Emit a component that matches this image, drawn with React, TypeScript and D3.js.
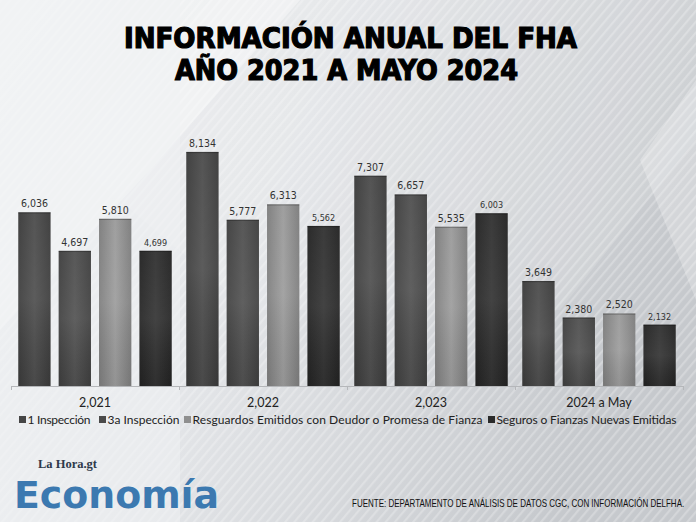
import React from "react";
import * as d3 from "d3";

const categories = ["2,021", "2,022", "2,023", "2024 a May"];
const seriesNames = [
  "1 Inspección",
  "3a Inspección",
  "Resguardos Emitidos con Deudor o Promesa de Fianza",
  "Seguros o Fianzas Nuevas Emitidas",
];
const inspeccion1 = [6036, 8134, 7307, 3649];
const inspeccion3a = [4697, 5777, 6657, 2380];
const resguardos = [5810, 6313, 5535, 2520];
const seguros = [4699, 5562, 6003, 2132];
const seriesValues = [inspeccion1, inspeccion3a, resguardos, seguros];

const W = 696;
const H = 522;
const baseY = 386;

const barColors = [
  ["#3a3a3a", "#4e4e4e", "#3a3a3a"],
  ["#3e3e3e", "#525252", "#3e3e3e"],
  ["#7c7c7c", "#9c9c9c", "#7c7c7c"],
  ["#222222", "#333333", "#222222"],
];
const legendColors = ["#454545", "#4a4a4a", "#8f8f8f", "#2a2a2a"];
const labelSizes = [10.5, 10.5, 10.5, 9];

// legend layout (square x, text width)
const legendSquareX = [19, 99, 184, 488];
const legendTextW = [63, 72, 290, 180];

export default function App() {
  const x0 = d3.scaleBand<string>().domain(categories).range([11, 683]).paddingInner(0).paddingOuter(0);
  const x1 = d3
    .scaleBand<number>()
    .domain(d3.range(seriesNames.length))
    .range([0, x0.bandwidth()])
    .paddingInner(0.2)
    .paddingOuter(0.18);
  const y = d3.scaleLinear().domain([0, 9000]).range([baseY, 127]);
  const fmt = d3.format(",");

  return (
    <div style={{ position: "fixed", left: 0, top: 0 }}>
      <svg width={W} height={H} xmlns="http://www.w3.org/2000/svg" style={{ display: "block" }}>
        <defs>
          <linearGradient id="bg" x1="0" y1="0" x2="1" y2="0.3">
            <stop offset="0" stopColor="#eef0f2" />
            <stop offset="0.45" stopColor="#e3e5e8" />
            <stop offset="1" stopColor="#c6c9cd" />
          </linearGradient>
          <pattern id="stripes" width="7" height="7" patternUnits="userSpaceOnUse" patternTransform="rotate(40)">
            <rect x="0" y="0" width="2.2" height="7" fill="#ffffff" opacity="0.45" />
          </pattern>
          {barColors.map((c, i) => (
            <linearGradient key={i} id={`bar${i}`} x1="0" y1="0" x2="1" y2="0">
              <stop offset="0" stopColor={c[0]} />
              <stop offset="0.5" stopColor={c[1]} />
              <stop offset="1" stopColor={c[2]} />
            </linearGradient>
          ))}
          <linearGradient id="barShade" x1="0" y1="0" x2="0" y2="1">
            <stop offset="0" stopColor="#ffffff" stopOpacity="0.04" />
            <stop offset="0.5" stopColor="#ffffff" stopOpacity="0.08" />
            <stop offset="1" stopColor="#000000" stopOpacity="0.05" />
          </linearGradient>
        </defs>

        {/* background */}
        <rect x={0} y={0} width={W} height={H} fill="url(#bg)" />
        <polygon points="0,0 300,0 150,170 0,330" fill="#f6f7f8" opacity="0.55" />
        <polygon points="60,150 210,0 696,0 696,140 560,310 250,310" fill="#ffffff" opacity="0.12" />
        <polygon points="640,160 696,80 696,300" fill="#ffffff" opacity="0.25" />
        <rect x={0} y={0} width={W} height={H} fill="url(#stripes)" opacity="0.55" />
        <rect x={0} y={0} width={180} height={H} fill="#f0f1f3" opacity="0.5" />

        {/* title */}
        <g fontFamily="'DejaVu Sans Condensed', 'DejaVu Sans', sans-serif" fontWeight={700} fill="#000" stroke="#000" strokeWidth={1.2} textAnchor="start">
          <text x={124} y={48} fontSize={29} textLength={453} lengthAdjust="spacingAndGlyphs">
            INFORMACIÓN ANUAL DEL FHA
          </text>
          <text x={175} y={80} fontSize={29} textLength={343} lengthAdjust="spacingAndGlyphs">
            AÑO 2021 A MAYO 2024
          </text>
        </g>

        {/* bars */}
        {categories.map((cat, ci) => (
          <g key={cat} transform={`translate(${x0(cat)},0)`}>
            {seriesValues.map((vals, si) => {
              const v = vals[ci];
              const bx = x1(si) as number;
              const bw = x1.bandwidth();
              return (
                <g key={si}>
                  <rect x={bx} y={y(v)} width={bw} height={baseY - y(v)} fill={`url(#bar${si})`} />
                  <rect x={bx} y={y(v)} width={bw} height={baseY - y(v)} fill="url(#barShade)" />
                  <rect x={bx} y={y(v)} width={bw} height={1.2} fill="#000" opacity={0.25} />
                  <text
                    x={bx + bw / 2}
                    y={y(v) - 5}
                    textAnchor="middle"
                    fontFamily="'DejaVu Sans Condensed', 'DejaVu Sans', sans-serif"
                    fontSize={labelSizes[si]}
                    fill="#333"
                  >
                    {fmt(v)}
                  </text>
                </g>
              );
            })}
          </g>
        ))}

        {/* axis */}
        <line x1={11} x2={683} y1={baseY + 0.5} y2={baseY + 0.5} stroke="#b5b7ba" strokeWidth={1} />
        {categories.concat(["end"]).map((c, i) => {
          const xx = i < categories.length ? (x0(c) as number) : 683;
          return <line key={i} x1={xx + 0.5} x2={xx + 0.5} y1={baseY} y2={baseY + 4} stroke="#b5b7ba" />;
        })}
        {categories.map((cat) => (
          <text
            key={cat}
            x={(x0(cat) as number) + x0.bandwidth() / 2}
            y={407}
            textAnchor="middle"
            fontFamily="Lato, sans-serif"
            fontSize={12.5}
            fill="#222"
          >
            {cat}
          </text>
        ))}

        {/* legend */}
        {seriesNames.map((name, i) => (
          <g key={name}>
            <rect x={legendSquareX[i]} y={416} width={7} height={7} fill={legendColors[i]} />
            <text
              x={legendSquareX[i] + 8.5}
              y={424}
              fontFamily="Lato, sans-serif"
              fontSize={12}
              fill="#222"
              textLength={legendTextW[i]}
              lengthAdjust="spacing"
            >
              {name}
            </text>
          </g>
        ))}

        {/* logo */}
        <text x={38} y={468} fontFamily="'Liberation Serif', serif" fontWeight={700} fontSize={12.5} fill="#2e3a4a">
          La Hora.gt
        </text>
        <text
          x={14}
          y={508}
          fontFamily="'DejaVu Sans Condensed', 'DejaVu Sans', sans-serif"
          fontWeight={700}
          fontSize={38}
          fill="#3c79b0"
          textLength={205}
          lengthAdjust="spacingAndGlyphs"
        >
          Economía
        </text>

        {/* footer */}
        <text
          transform="translate(352,507) scale(0.8,1)"
          x={0}
          y={0}
          fontFamily="'Liberation Sans', sans-serif"
          fontSize={10}
          fill="#111"
        >
          FUENTE: DEPARTAMENTO DE ANÁLISIS DE DATOS CGC, CON INFORMACIÓN DELFHA.
        </text>
      </svg>
    </div>
  );
}
